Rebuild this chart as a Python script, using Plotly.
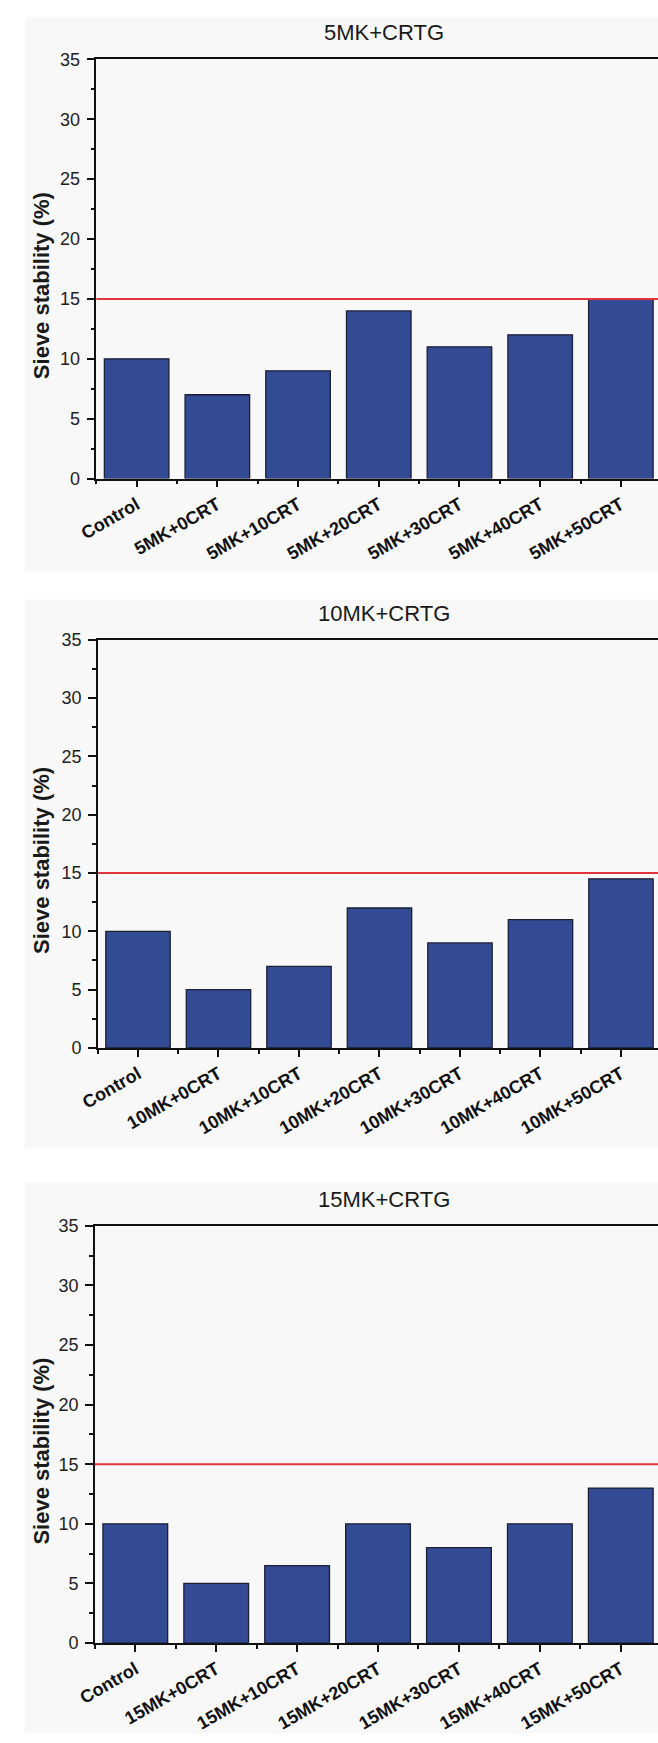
import plotly.graph_objects as go

# ---------------- data ----------------
categories_5 = ["Control", "5MK+0CRT", "5MK+10CRT", "5MK+20CRT", "5MK+30CRT", "5MK+40CRT", "5MK+50CRT"]
values_5 = [10, 7, 9, 14, 11, 12, 15]

categories_10 = ["Control", "10MK+0CRT", "10MK+10CRT", "10MK+20CRT", "10MK+30CRT", "10MK+40CRT", "10MK+50CRT"]
values_10 = [10, 5, 7, 12, 9, 11, 14.5]

categories_15 = ["Control", "15MK+0CRT", "15MK+10CRT", "15MK+20CRT", "15MK+30CRT", "15MK+40CRT", "15MK+50CRT"]
values_15 = [10, 5, 6.5, 10, 8, 10, 13]

panel_titles = ["5MK+CRTG", "10MK+CRTG", "15MK+CRTG"]
threshold = 15
y_tick_values = [0, 5, 10, 15, 20, 25, 30, 35]
y_axis_title = "Sieve stability (%)"

# ---------------- layout geometry (pixels) ----------------
W, H = 658, 1743
panels = [
    dict(left=80.5, top=50, bottom=474, bg_top=7, bg_bottom=568),
    dict(left=82.0, top=637, bottom=1050, bg_top=596, bg_bottom=1152),
    dict(left=79.0, top=1230, bottom=1652, bg_top=1186, bg_bottom=1743),
]
series = [(categories_5, values_5), (categories_10, values_10), (categories_15, values_15)]

BAR = "#334a94"
EDGE = "#1d1f33"
RED = "#e0363b"
FONT = "Arial, Liberation Sans, sans-serif"

def py(p):
    return 1 - p / H

fig = go.Figure()
shapes = []
annotations = []
layout_axes = {}

for i, (panel, (cats, vals), title) in enumerate(zip(panels, series, panel_titles)):
    n = i + 1
    xa = "x" if n == 1 else f"x{n}"
    ya = "y" if n == 1 else f"y{n}"
    xkey = "xaxis" if n == 1 else f"xaxis{n}"
    ykey = "yaxis" if n == 1 else f"yaxis{n}"

    positions = list(range(len(cats)))
    fig.add_trace(go.Bar(
        x=positions, y=vals, width=0.8,
        marker=dict(color=BAR, line=dict(color=EDGE, width=1.3)),
        xaxis=xa, yaxis=ya, showlegend=False,
    ))

    layout_axes[xkey] = dict(
        domain=[panel["left"] / W, 1.0],
        anchor=ya,
        range=[-0.5, 6.46],
        tickmode="array", tickvals=positions, ticktext=cats,
        tickangle=-30,
        tickfont=dict(family=FONT, size=18, color="#111", weight="bold"),
        ticks="outside", ticklen=7, tickwidth=1.5, tickcolor="#111",
        minor=dict(tickmode="array", tickvals=[p + 0.5 for p in [-1] + positions[:-1]],
                   ticks="outside", ticklen=4, tickwidth=1.5, tickcolor="#111"),
        showline=True, linecolor="#111", linewidth=1.5, mirror=True,
        showgrid=False, zeroline=False, fixedrange=True,
    )
    layout_axes[ykey] = dict(
        domain=[py(panel["bottom"]), py(panel["top"])],
        anchor=xa,
        range=[0, 35],
        tickmode="array", tickvals=y_tick_values,
        tickfont=dict(family=FONT, size=18, color="#222"),
        ticks="outside", ticklen=8, tickwidth=1.5, tickcolor="#111",
        ticklabelstandoff=3,
        minor=dict(dtick=2.5, ticks="outside", ticklen=4, tickwidth=1.5, tickcolor="#111"),
        showline=True, linecolor="#111", linewidth=1.5, mirror=False,
        showgrid=False, zeroline=False, fixedrange=True,
    )

    # panel background
    shapes.append(dict(type="rect", xref="paper", yref="paper",
                       x0=7 / W, x1=1.0, y0=py(panel["bg_bottom"]), y1=py(panel["bg_top"]),
                       fillcolor="#f8f8f8", line=dict(width=0), layer="below"))
    # threshold line
    shapes.append(dict(type="line", xref=f"{xa} domain", yref=ya,
                       x0=0, x1=1, y0=threshold, y1=threshold,
                       line=dict(color=RED, width=2), layer="above"))

    # panel title
    annotations.append(dict(text=title, xref="paper", yref="paper",
                            x=376 / W, y=py(panel["top"] - 27),
                            xanchor="center", yanchor="middle", showarrow=False,
                            font=dict(family=FONT, size=22, color="#1a1a1a")))
    # y-axis title
    annotations.append(dict(text=f"<b>{y_axis_title}</b>", xref="paper", yref="paper",
                            x=24 / W, y=py((panel["top"] + panel["bottom"]) / 2 + 17),
                            xanchor="center", yanchor="middle", showarrow=False,
                            textangle=-90,
                            font=dict(family=FONT, size=22, color="#1a1a1a")))

fig.update_layout(
    width=W, height=H,
    margin=dict(l=0, r=0, t=0, b=0),
    paper_bgcolor="white",
    plot_bgcolor="rgba(0,0,0,0)",
    bargap=0.2,
    shapes=shapes,
    annotations=annotations,
    **layout_axes,
)

fig.write_html("out.html", config=dict(displayModeBar=False))
